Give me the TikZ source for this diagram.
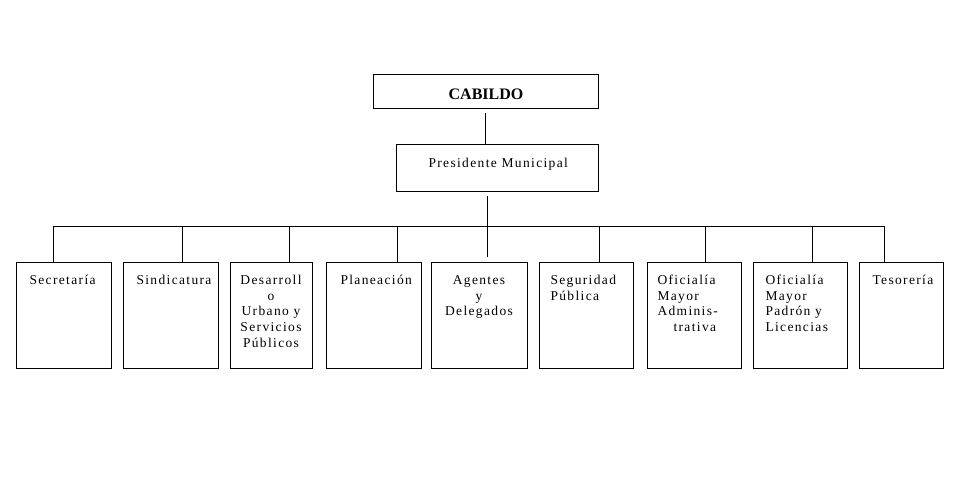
\documentclass[tikz,border=0pt]{standalone}
\usepackage{fontspec}
\setmainfont{Liberation Serif}[LetterSpace=10]
\begin{document}
\begin{tikzpicture}[x=1pt,y=-1pt,line width=1pt,
  box/.style={draw,rectangle,inner sep=0pt,outer sep=0pt,anchor=north west},
  lbl/.style={inner sep=0pt,font=\fontsize{13.5}{15.7}\selectfont},
  lblL/.style={lbl,align=left,anchor=north west},
  lblC/.style={lbl,align=center,anchor=north}]
\useasboundingbox[fill=white] (0,0) rectangle (959,479);
% top boxes
\node[box,minimum width=225,minimum height=34] (cab) at (373,74) {};
\node[box,minimum width=202,minimum height=47] (pres) at (396,144) {};
% bottom boxes
\node[box,minimum width=95,minimum height=106] (b1) at (16,262) {};
\node[box,minimum width=95,minimum height=106] (b2) at (123,262) {};
\node[box,minimum width=82,minimum height=106] (b3) at (230,262) {};
\node[box,minimum width=95,minimum height=106] (b4) at (326,262) {};
\node[box,minimum width=96,minimum height=106] (b5) at (431,262) {};
\node[box,minimum width=94,minimum height=106] (b6) at (539,262) {};
\node[box,minimum width=94,minimum height=106] (b7) at (647,262) {};
\node[box,minimum width=94,minimum height=106] (b8) at (753,262) {};
\node[box,minimum width=84,minimum height=106] (b9) at (859,262) {};
% texts (first baseline = top + 10)
\node[inner sep=0pt,anchor=base,font=\fontsize{16}{18}\selectfont\bfseries\addfontfeature{LetterSpace=0}] (tcab) at (486,99) {CABILDO};
\node[lbl,anchor=base west] (tpres) at (428,167) {Presidente Municipal};
\node[lblL] (t1) at (29,274) {\rule{0pt}{10pt}Secretaría};
\node[lblL] (t2) at (136,274) {\rule{0pt}{10pt}Sindicatura};
\node[lblC] (t3) at (271,274) {\rule{0pt}{10pt}Desarroll\\o\\Urbano y\\Servicios\\Públicos};
\node[lblL] (t4) at (340,274) {\rule{0pt}{10pt}Planeación};
\node[lblC] (t5) at (479,274) {\rule{0pt}{10pt}Agentes\\y\\Delegados};
\node[lblL] (t6) at (550,274) {\rule{0pt}{10pt}Seguridad\\Pública};
\node[lblL] (t7) at (657,274) {\rule{0pt}{10pt}Oficialía\\Mayor\\Adminis-\\\hspace*{16pt}trativa};
\node[lblL] (t8) at (765,274) {\rule{0pt}{10pt}Oficialía\\Mayor\\Padrón y\\Licencias};
\node[lblL] (t9) at (872,274) {\rule{0pt}{10pt}Tesorería};
% connectors
\coordinate (busL) at (53,226);
\coordinate (busR) at (884,226);
\coordinate (busM) at (487,226);
\coordinate (d2) at (182,226);
\coordinate (d3) at (289,226);
\coordinate (d4) at (397,226);
\coordinate (d6) at (599,226);
\coordinate (d7) at (705,226);
\coordinate (d8) at (812,226);
\draw[shorten <=5pt] (cab.south) -- (cab.south |- pres.north);
\draw[shorten <=5pt,shorten >=5pt] (pres.south -| busM) -- (busM |- b5.north);
\draw (busL) -- (busR);
\draw (busL) -- (busL |- b1.north);
\draw (d2) -- (d2 |- b2.north);
\draw (d3) -- (d3 |- b3.north);
\draw (d4) -- (d4 |- b4.north);
\draw (d6) -- (d6 |- b6.north);
\draw (d7) -- (d7 |- b7.north);
\draw (d8) -- (d8 |- b8.north);
\draw (busR) -- (busR |- b9.north);
\end{tikzpicture}
\end{document}
